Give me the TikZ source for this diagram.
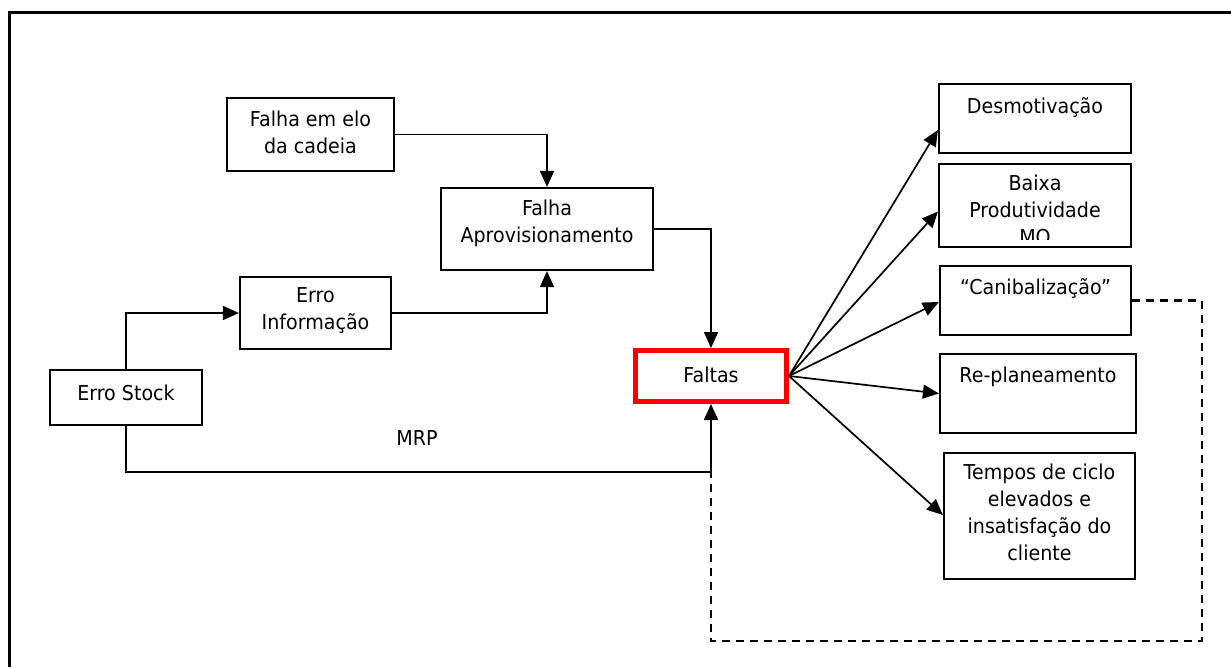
\documentclass[tikz,border=0pt]{standalone}
\usepackage{fontspec}
\setmainfont[FakeStretch=0.93]{DejaVu Sans}
\usetikzlibrary{arrows.meta}
\begin{document}
\begin{tikzpicture}[x=1pt,y=-1pt,
  box/.style={draw=black,line width=2.2pt,rectangle,inner sep=0pt},
  txt/.style={font=\fontsize{20.5}{27}\selectfont,align=center,inner sep=0pt},
  conn/.style={draw=black,line width=1.7pt},
  arr/.style={conn,-{Triangle[length=16pt,width=14pt]}},
  dashline/.style={draw=black,line width=2.2pt,dash pattern=on 8pt off 6pt}]
\useasboundingbox[fill=white] (0,0) rectangle (1231,667);
% outer frame
\draw[line width=3pt] (9.5,667) -- (9.5,12) -- (1231,12);
% left boxes
\node[box,minimum width=167pt,minimum height=73pt] (elo) at (310.5,134.5) {};
\node[txt] (elot) at (310.5,132) {Falha em elo\\da cadeia};
\node[box,minimum width=212pt,minimum height=82pt] (aprov) at (547,229) {};
\node[txt] (aprovt) at (547,223) {Falha\\Aprovisionamento};
\node[box,minimum width=151pt,minimum height=72pt] (info) at (315.5,313) {};
\node[txt] (infot) at (315.5,310.5) {Erro\\Informação};
\node[box,minimum width=152pt,minimum height=55pt] (stock) at (126,397.5) {};
\node[txt] (stockt) at (126,393) {Erro Stock};
% central
\node[draw=red,line width=5pt,minimum width=151pt,minimum height=51pt,inner sep=0pt] (faltas) at (711,376) {};
\node[txt] (faltast) at (711,375) {Faltas};
\node[txt] (mrp) at (417,438) {MRP};
% right boxes
\node[box,minimum width=192pt,minimum height=69pt] (desm) at (1035,118.5) {};
\node[txt] (desmt) at (1035,108) {Desmotivação};
\node[box,minimum width=192pt,minimum height=83pt] (baixa) at (1035,205.5) {};
\begin{scope}
\clip (939,164) rectangle (1131,239);
\node[txt] (baixat) at (1035,209.5) {Baixa\\Produtividade\\MO};
\end{scope}
\node[box,minimum width=191pt,minimum height=69pt] (canib) at (1035.5,300.5) {};
\node[txt] (canibt) at (1035.5,289) {“Canibalização”};
\node[box,minimum width=196pt,minimum height=79pt] (repl) at (1038,393.5) {};
\node[txt] (replt) at (1038,377) {Re-planeamento};
\node[box,minimum width=191pt,minimum height=126pt] (temp) at (1039.5,516) {};
\node[txt] (tempt) at (1039.5,512) {Tempos de ciclo\\elevados e\\insatisfação do\\cliente};
% connectors
\draw[arr] (elo.east) -| (aprov.north);
\draw[arr] (info.east) -| (aprov.south);
\draw[arr] (stock.north) |- (info.west);
\draw[arr] (aprov.east) -| (faltas.north);
\coordinate (j) at (711,472);
\draw[conn] (stock.south) |- (j);
\draw[arr] (j) -- (faltas.south);
\coordinate (d1) at (1202,300.5);
\coordinate (d2) at (1202,641);
\coordinate (d3) at (711,641);
\draw[dashline] (canib.east) -- (d1) -- (d2) -- (d3) -- (j);
% fan from Faltas
\draw[arr] (faltas.east) -- ([yshift=-11.5pt]desm.west);
\draw[arr] (faltas.east) -- ([yshift=-6pt]baixa.west);
\draw[arr] (faltas.east) -- ([yshift=-1.5pt]canib.west);
\draw[arr] (faltas.east) -- (repl.west);
\draw[arr] (faltas.east) -- ([yshift=1pt]temp.west);
\end{tikzpicture}
\end{document}
